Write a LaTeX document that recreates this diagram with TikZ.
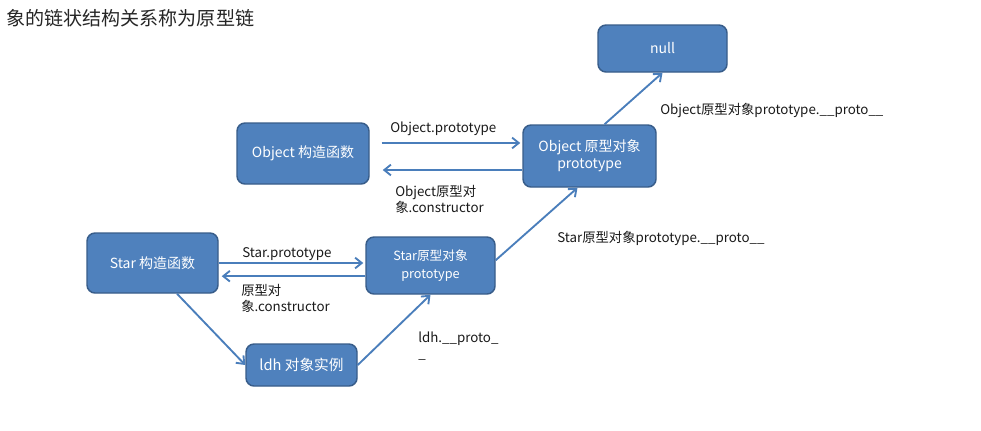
\documentclass[tikz,border=0pt]{standalone}
\usepackage{fontspec}
\setmainfont{Noto Sans CJK SC}
\usetikzlibrary{arrows.meta}
\definecolor{boxfill}{HTML}{4F81BD}
\definecolor{boxline}{HTML}{385D8A}
\definecolor{arrcol}{HTML}{4A7EBB}
\definecolor{txt}{HTML}{1A1A1A}
\tikzset{
  bluebox/.style={draw=boxline, line width=1.1pt, fill=boxfill, rounded corners=6pt,
    text=white, align=center, inner sep=0pt, font=\fontsize{10.5}{13}\selectfont},
  arr/.style={draw=arrcol, line width=1.4pt, -{Straight Barb[length=5pt,width=8pt]}},
  lbl/.style={anchor=west, text=txt, align=left, inner sep=0pt, font=\fontsize{10}{12}\selectfont}
}
\begin{document}
\begin{tikzpicture}[x=0.75pt,y=-0.75pt]
\useasboundingbox[fill=white] (0,0) rectangle (981,430);
\node[anchor=west, text=black!85, inner sep=0pt, font=\fontsize{14.3}{16}\selectfont] (title) at (6,18) {象的链状结构关系称为原型链};

\node[bluebox, minimum width=96.75pt, minimum height=35.25pt] (null) at (662.5,48.5) {null};
\node[bluebox, minimum width=99pt, minimum height=45.75pt] (objctor) at (303,153.5) {Object 构造函数};
\node[bluebox, minimum width=99.75pt, minimum height=46.5pt] (objproto) at (589.5,156) {Object 原型对象\\prototype};
\node[bluebox, minimum width=98.25pt, minimum height=45pt] (starctor) at (152.5,263) {Star 构造函数};
\node[bluebox, minimum width=96.75pt, minimum height=42.75pt, font=\fontsize{9.5}{13}\selectfont] (starproto) at (430.5,265.5) {Star原型对象\\prototype};
\node[bluebox, minimum width=83.25pt, minimum height=31.5pt, font=\fontsize{11}{13}\selectfont] (ldh) at (301.5,365) {ldh 对象实例};

\draw[arr] ([xshift=9pt,yshift=7.9pt]objctor.east) -- ([xshift=-1.5pt,yshift=7.9pt]objctor.east -| objproto.west);
\draw[arr] ([yshift=-10.5pt]objproto.west) -- ([xshift=9.75pt,yshift=-10.5pt]objproto.west -| objctor.east);
\draw[arr] (starctor.east) -- ([xshift=-1.5pt]starctor.east -| starproto.west);
\draw[arr] ([yshift=-8pt]starproto.west) -- ([xshift=2.25pt,yshift=-8pt]starproto.west -| starctor.east);
\draw[arr] ([xshift=18.4pt]starctor.south) -- (ldh.west);
\draw[arr] (ldh.east) -- (starproto.south);
\draw[arr] ([yshift=4pt]starproto.east) -- ([xshift=-9pt]objproto.south);
\draw[arr] ([xshift=11.25pt]objproto.north) -- (null.south);

\node[lbl] (l1) at (390,129) {Object.prototype};
\node[lbl] (l2) at (395,199) {Object原型对\\象.constructor};
\node[lbl] (l3) at (242,254) {Star.prototype};
\node[lbl] (l4) at (241,298) {原型对\\象.constructor};
\node[lbl] (l5) at (418,346) {ldh.\_\_proto\_\\\_};
\node[lbl] (l6) at (557,238) {Star原型对象prototype.\_\_proto\_\_};
\node[lbl] (l7) at (660,110) {Object原型对象prototype.\_\_proto\_\_};
\end{tikzpicture}
\end{document}
